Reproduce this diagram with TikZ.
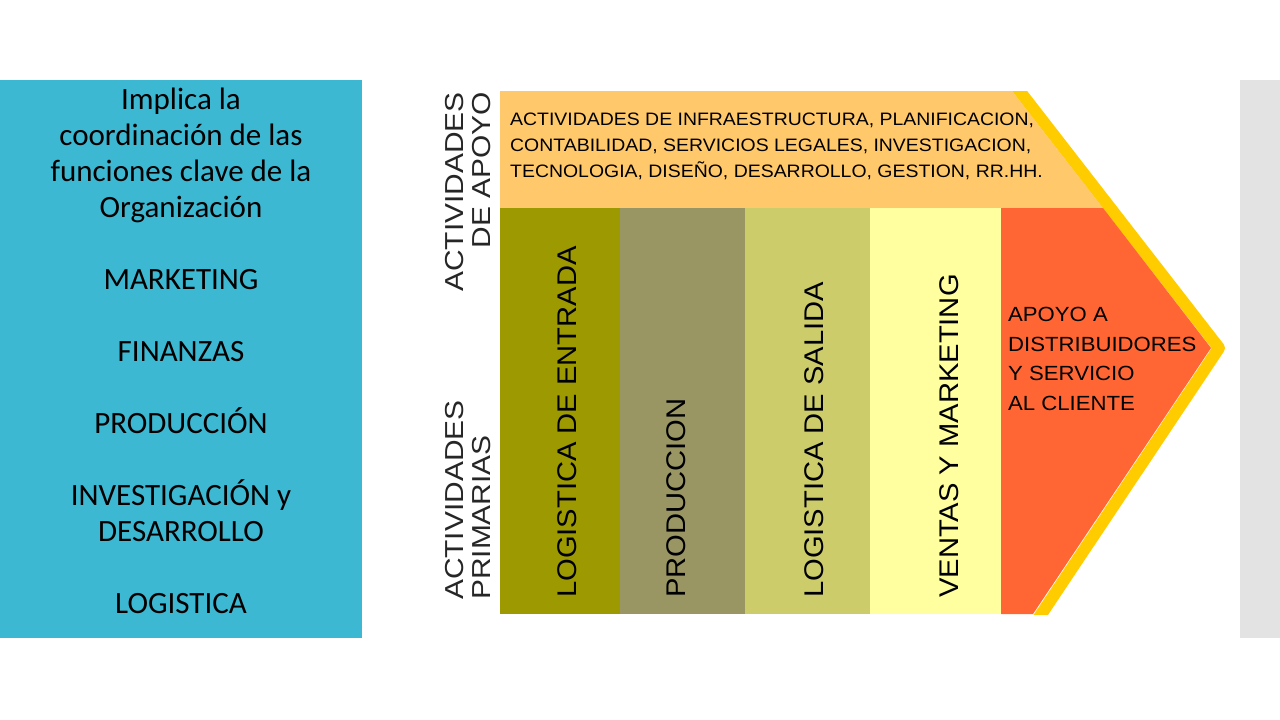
\documentclass[tikz,border=0pt]{standalone}
\usepackage{fontspec}
\setmainfont{Carlito}
\newfontfamily\cadena{Liberation Sans}[FakeStretch=1.08]
\newfontfamily\cadenaancha{Liberation Sans}[FakeStretch=1.15]
\usepackage{tikz}
\usetikzlibrary{positioning}
\definecolor{azul}{HTML}{3DB8D2}
\definecolor{gris}{HTML}{E3E3E3}
\definecolor{apoyo}{HTML}{FFC96B}
\definecolor{olivo}{HTML}{9C9A00}
\definecolor{pardo}{HTML}{9A9664}
\definecolor{lima}{HTML}{CCCC6A}
\definecolor{crema}{HTML}{FFFFA0}
\definecolor{naranja}{HTML}{FF6633}
\definecolor{borde}{HTML}{FFCC00}
\tikzset{
  columna/.style={anchor=north west, minimum height=406pt, inner sep=0pt, outer sep=0pt},
  etiqueta/.style={rotate=90, anchor=west, inner sep=0pt, font=\cadena\fontsize{27}{27}\selectfont},
  lado/.style={rotate=90, inner sep=0pt, text=black!85, font=\cadenaancha\fontsize{26}{27}\selectfont},
}

\begin{document}
\begin{tikzpicture}[x=1pt,y=-1pt]
        \useasboundingbox (0,0) rectangle (1280,720);
        \fill[azul] (0,80) rectangle (362,638);
        \fill[gris] (1240,80) rectangle (1280,638);
        \node[align=center, anchor=north, inner sep=0pt, font=\fontsize{31}{36}\selectfont] (funciones) at (181,88)
            {Implica la\\coordinación de las\\funciones clave de la\\Organización\\[36pt]
             MARKETING\\[36pt]FINANZAS\\[36pt]PRODUCCIÓN\\[36pt]INVESTIGACIÓN y\\DESARROLLO\\[36pt]LOGISTICA};
        \begin{scope}
            \clip (0,91) rectangle (1280,614);
            \draw[borde, line width=12pt, line join=round] (1004,71) -- (1219,348) -- (1028,634);
        \end{scope}
        \fill[apoyo] (500,91) -- (1012,91) -- (1103,208) -- (500,208) -- cycle;
        \node[columna, fill=olivo, minimum width=120pt] (entrada) at (500,208) {};
        \node[columna, fill=pardo, minimum width=125pt, right=0pt of entrada] (produccion) {};
        \node[columna, fill=lima, minimum width=125pt, right=0pt of produccion] (salida) {};
        \node[columna, fill=crema, minimum width=131pt, right=0pt of salida] (ventas) {};
        \fill[naranja] (ventas.north east) -- (1103,208) -- (1211,348) -- (1033,614) -- (ventas.south east) -- cycle;
        \node[align=left, anchor=north west, inner sep=0pt, font=\cadena\fontsize{18}{26}\selectfont] (infra) at (510,113)
            {ACTIVIDADES DE INFRAESTRUCTURA, PLANIFICACION,\\CONTABILIDAD, SERVICIOS LEGALES, INVESTIGACION,\\TECNOLOGIA, DISEÑO, DESARROLLO, GESTION, RR.HH.};
        \node[etiqueta] (lentrada) at ([xshift=7pt,yshift=16pt]entrada.south) {LOGISTICA DE ENTRADA};
        \node[etiqueta] (lproduccion) at ([xshift=-6pt,yshift=16pt]produccion.south) {PRODUCCION};
        \node[etiqueta] (lsalida) at ([xshift=7pt,yshift=16pt]salida.south) {LOGISTICA DE SALIDA};
        \node[etiqueta] (lventas) at ([xshift=14pt,yshift=16pt]ventas.south) {VENTAS Y MARKETING};
        \node[align=left, anchor=north west, inner sep=0pt, font=\cadena\fontsize{20.5}{29.5}\selectfont] (servicio) at (1008,307)
            {APOYO A\\DISTRIBUIDORES\\Y SERVICIO\\AL CLIENTE};
        \node[lado, align=right, anchor=east] (apoyolbl) at (468.5,92) {ACTIVIDADES\\DE APOYO};
        \node[lado, align=left, anchor=west] (primlbl) at (468.5,600) {ACTIVIDADES\\PRIMARIAS};
    \end{tikzpicture}
\end{document}
